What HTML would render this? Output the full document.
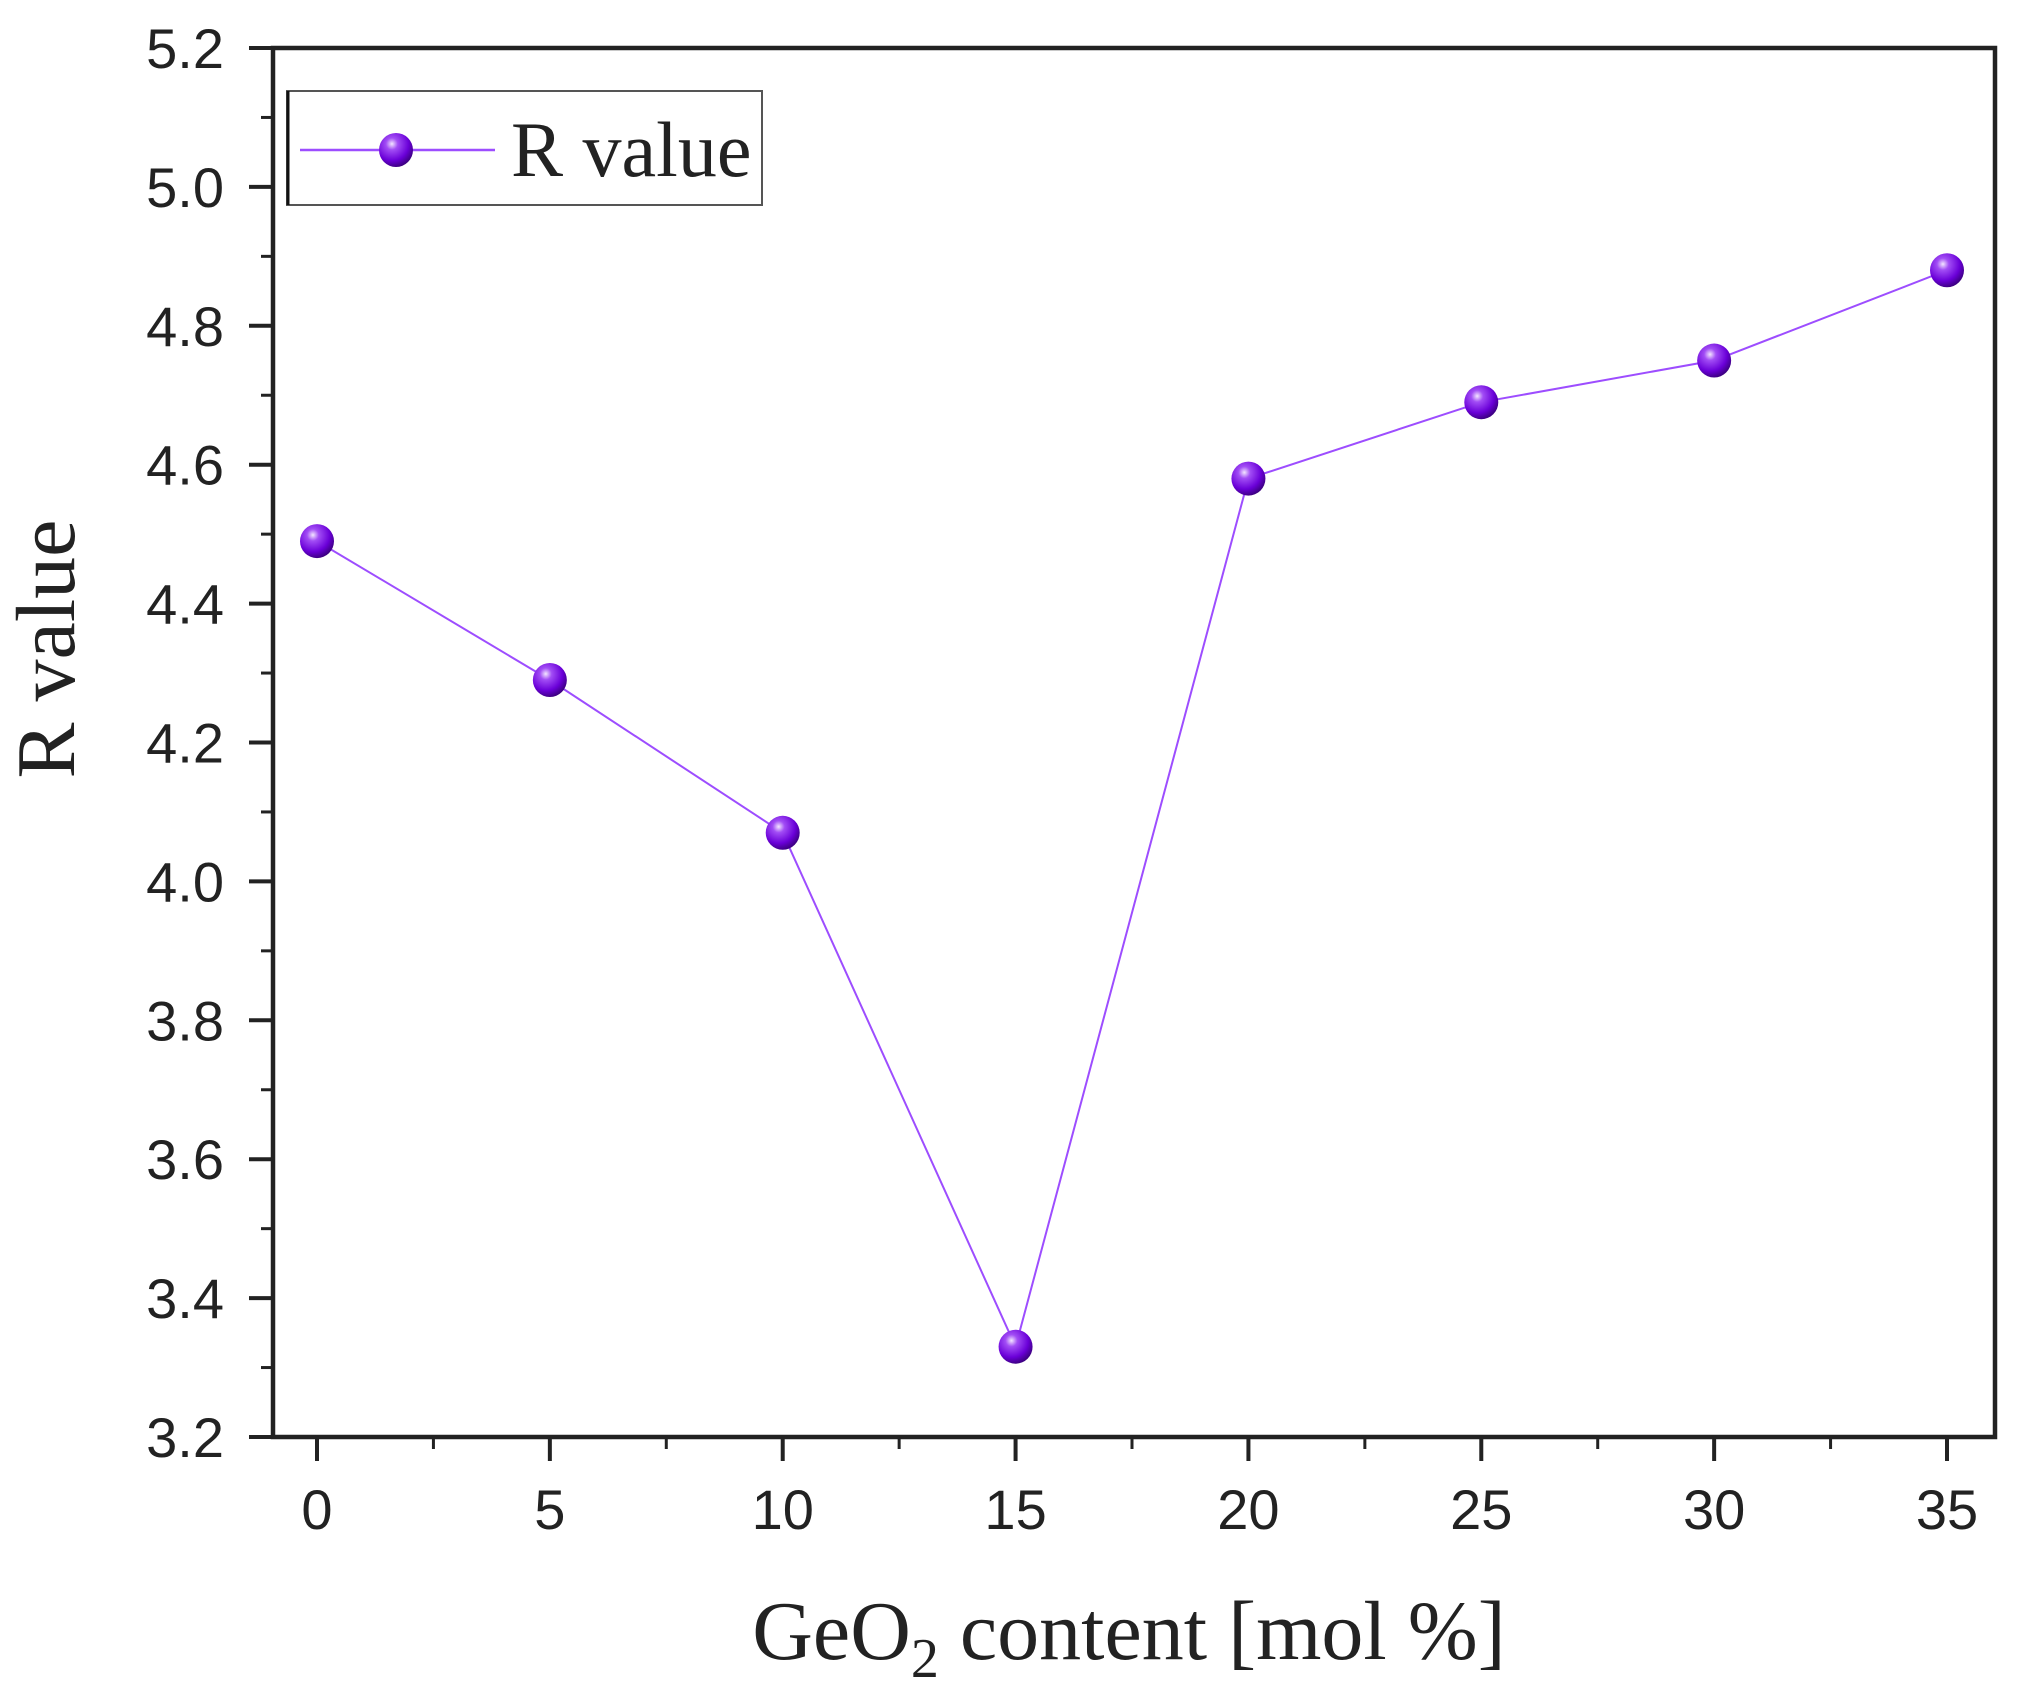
<!DOCTYPE html>
<html><head><meta charset="utf-8"><style>
html,body{margin:0;padding:0;background:#fff;}
svg{display:block;}
</style></head><body>
<svg id="chart" width="2032" height="1696" viewBox="0 0 2032 1696" xmlns="http://www.w3.org/2000/svg">
<defs>
<radialGradient id="ball" cx="0.38" cy="0.32" r="0.7">
<stop offset="0" stop-color="#f3e6ff"/>
<stop offset="0.25" stop-color="#a24df5"/>
<stop offset="0.7" stop-color="#6a00d8"/>
<stop offset="1" stop-color="#3c0080"/>
</radialGradient>
</defs>
</svg>
<script>
const categories = [0, 5, 10, 15, 20, 25, 30, 35];
const rValues = [4.49, 4.29, 4.07, 3.33, 4.58, 4.69, 4.75, 4.88];
const xTickLabels = ['0','5','10','15','20','25','30','35'];
const yTickLabels = ['3.2','3.4','3.6','3.8','4.0','4.2','4.4','4.6','4.8','5.0','5.2'];

const L = 273, R = 1995, T = 48, B = 1437;
const x0px = 317, x35px = 1947;
const xs = v => x0px + (v - 0) * (x35px - x0px) / 35;
const ys = v => B - (v - 3.2) * (B - T) / 2.0;
const NS = 'http://www.w3.org/2000/svg';
const svg = document.getElementById('chart');
function mk(tag, attrs, parent) {
  const e = document.createElementNS(NS, tag);
  for (const k in attrs) e.setAttribute(k, attrs[k]);
  (parent || svg).appendChild(e);
  return e;
}
const axisCol = '#222';
let frame = mk('rect', {x: L, y: T, width: R - L, height: B - T, fill: 'none', stroke: axisCol, 'stroke-width': 4.5});



for (let i = 0; i < yTickLabels.length; i++) {
  const v = parseFloat(yTickLabels[i]);
  const y = ys(v);
  const t = mk('line', {x1: L - 24, x2: L, y1: y, y2: y, stroke: axisCol, 'stroke-width': 4});
  
  
  const lb = mk('text', {x: 224, y: y + 20, 'text-anchor': 'end', 'font-family': 'Liberation Sans, sans-serif', 'font-size': 56, fill: '#222'});
  lb.textContent = yTickLabels[i];
  
  
  if (i < yTickLabels.length - 1) {
    const ym = ys(v + 0.1);
    const m = mk('line', {x1: L - 12, x2: L, y1: ym, y2: ym, stroke: axisCol, 'stroke-width': 3});
    
    
  }
}
for (let i = 0; i < xTickLabels.length; i++) {
  const v = parseFloat(xTickLabels[i]);
  const x = xs(v);
  const t = mk('line', {x1: x, x2: x, y1: B, y2: B + 24, stroke: axisCol, 'stroke-width': 4});
  
  
  const lb = mk('text', {x: x, y: 1529, 'text-anchor': 'middle', 'font-family': 'Liberation Sans, sans-serif', 'font-size': 56, fill: '#222'});
  lb.textContent = xTickLabels[i];
  
  
  if (i < xTickLabels.length - 1) {
    const xm = xs(v + 2.5);
    const m = mk('line', {x1: xm, x2: xm, y1: B, y2: B + 12, stroke: axisCol, 'stroke-width': 3});
    
    
  }
}
const pts = categories.map((c, i) => xs(c) + ',' + ys(rValues[i])).join(' ');
const line = mk('polyline', {points: pts, fill: 'none', stroke: '#9d4dff', 'stroke-width': 2});


categories.forEach((c, i) => {
  const p = mk('circle', {cx: xs(c), cy: ys(rValues[i]), r: 17, fill: 'url(#ball)'});
  
  
});
const lg = mk('g', {});


mk('rect', {x: 287, y: 91, width: 475, height: 114, fill: '#fff', stroke: '#555', 'stroke-width': 2}, lg);
mk('line', {x1: 288, y1: 91, x2: 288, y2: 205, stroke: '#111', 'stroke-width': 3}, lg);
mk('line', {x1: 300, y1: 150, x2: 495, y2: 150, stroke: '#9d4dff', 'stroke-width': 2.5}, lg);
const lm = mk('circle', {cx: 396, cy: 150, r: 17, fill: 'url(#ball)'}, lg);


const lt = mk('text', {x: 511, y: 176, 'font-family': 'Liberation Serif, serif', 'font-size': 78, fill: '#222'}, lg);
lt.textContent = 'R value';


const yt = mk('text', {x: 0, y: 0, transform: 'translate(74,649) rotate(-90)', 'text-anchor': 'middle', 'font-family': 'Liberation Serif, serif', 'font-size': 84, fill: '#222'});
yt.textContent = 'R value';


const xt = mk('text', {x: 1129, y: 1659, 'text-anchor': 'middle', 'font-family': 'Liberation Serif, serif', 'font-size': 84, fill: '#222'});
xt.innerHTML = 'GeO<tspan dy="18" font-size="56">2</tspan><tspan dy="-18"> content [mol %]</tspan>';


</script>
</body></html>
